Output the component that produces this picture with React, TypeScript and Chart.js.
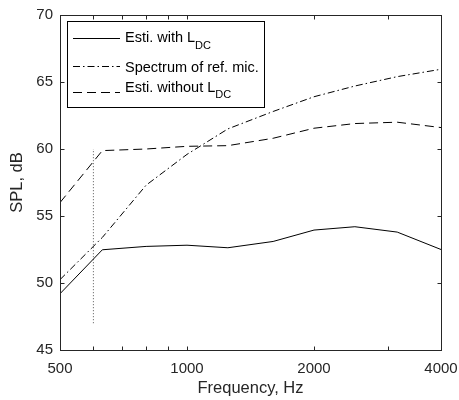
import React, { useEffect, useRef } from "react";
import { Chart, registerables } from "chart.js";

Chart.register(...registerables);

// ---- data ----
const frequencies = [500, 630, 800, 1000, 1250, 1600, 2000, 2500, 3150, 4000];
const estiWithLdc = [49.2, 52.48, 52.73, 52.82, 52.63, 53.1, 53.95, 54.2, 53.8, 52.5];
const refMicSpectrum = [50.25, 53.4, 57.3, 59.6, 61.5, 62.8, 63.9, 64.7, 65.4, 65.95];
const estiWithoutLdc = [56.0, 59.88, 60.0, 60.2, 60.25, 60.8, 61.55, 61.9, 62.0, 61.6];
const markerFrequency = 600;
const markerRange = [47, 60];

const xTickLabels = [500, 1000, 2000, 4000];
const xTickMarks = [600, 700, 800, 900, 1000, 2000, 3000];
const yTickMarks = [50, 55, 60, 65];

const legendLabels = ["Esti. with L", "Spectrum of ref. mic.", "Esti. without L"];
const legendSubscripts = ["DC", "", "DC"];
const seriesNames = ["Esti. with LDC", "Spectrum of ref. mic.", "Esti. without LDC"];

const FONT = '"Liberation Sans", Arial, Helvetica, sans-serif';
const AXIS_COLOR = "#262626";
const dashes: number[][] = [[], [7, 3, 1.5, 3], [9, 5]];

const boxPlugin = {
  id: "matlabBox",
  afterDatasetsDraw(chart: any) {
    const { ctx, chartArea: a, scales } = chart;
    ctx.save();
    ctx.strokeStyle = AXIS_COLOR;
    ctx.lineWidth = 1;
    ctx.setLineDash([]);
    const L = Math.round(a.left) + 0.5;
    const R = Math.round(a.right) + 0.5;
    const T = Math.round(a.top) + 0.5;
    const B = Math.round(a.bottom) + 0.5;
    ctx.strokeRect(L, T, R - L, B - T);
    const tl = 4;
    ctx.beginPath();
    for (const v of xTickMarks) {
      const px = Math.round(scales.x.getPixelForValue(v)) + 0.5;
      ctx.moveTo(px, B);
      ctx.lineTo(px, B - tl);
      ctx.moveTo(px, T);
      ctx.lineTo(px, T + tl);
    }
    for (const v of yTickMarks) {
      const py = Math.round(scales.y.getPixelForValue(v)) + 0.5;
      ctx.moveTo(L, py);
      ctx.lineTo(L + tl, py);
      ctx.moveTo(R, py);
      ctx.lineTo(R - tl, py);
    }
    ctx.stroke();

    // legend
    const bx = 67.5, by = 21.5, bw = 197, bh = 86;
    ctx.fillStyle = "#ffffff";
    ctx.fillRect(bx, by, bw, bh);
    ctx.strokeStyle = "#000";
    ctx.strokeRect(bx, by, bw, bh);
    const lineY = [38.5, 66.5, 92.5];
    const textY = [42, 71.5, 91.5];
    for (let i = 0; i < legendLabels.length; i++) {
      ctx.beginPath();
      ctx.setLineDash(dashes[i]);
      ctx.strokeStyle = "#000";
      ctx.moveTo(73, lineY[i]);
      ctx.lineTo(120, lineY[i]);
      ctx.stroke();
      ctx.setLineDash([]);
      ctx.fillStyle = "#000";
      ctx.textAlign = "left";
      ctx.textBaseline = "alphabetic";
      ctx.font = `14.5px ${FONT}`;
      ctx.fillText(legendLabels[i], 125, textY[i]);
      if (legendSubscripts[i]) {
        const w = ctx.measureText(legendLabels[i]).width;
        ctx.font = `11px ${FONT}`;
        ctx.fillText(legendSubscripts[i], 125 + w, textY[i] + 6.5);
      }
    }
    ctx.restore();
  },
};

export default function App() {
  const ref = useRef<HTMLCanvasElement | null>(null);
  useEffect(() => {
    document.body.style.margin = "0";
    document.body.style.background = "#fff";
    const canvas = ref.current!;
    const series = [estiWithLdc, refMicSpectrum, estiWithoutLdc];
    const datasets: any[] = series.map((vals, i) => ({
      label: seriesNames[i],
      data: frequencies.map((f, k) => ({ x: f, y: vals[k] })),
      borderColor: "#000",
      borderWidth: 1,
      borderDash: dashes[i],
      pointRadius: 0,
      fill: false,
      tension: 0,
    }));
    datasets.push({
      label: "marker",
      data: markerRange.map((y) => ({ x: markerFrequency, y })),
      borderColor: "#555",
      borderWidth: 1,
      borderDash: [1, 2],
      pointRadius: 0,
      fill: false,
    });
    const chart = new Chart(canvas, {
      type: "line",
      data: { datasets },
      plugins: [boxPlugin],
      options: {
        responsive: false,
        animation: false,
        layout: { padding: { top: 15, right: 18, left: 0, bottom: 0 } },
        plugins: { legend: { display: false }, tooltip: { enabled: false } },
        scales: {
          x: {
            type: "logarithmic",
            min: 500,
            max: 4000,
            afterBuildTicks: (s: any) => {
              s.ticks = xTickLabels.map((v) => ({ value: v }));
            },
            afterFit: (s: any) => {
              s.height = 50;
              s.paddingLeft = 0;
              s.paddingRight = 0;
            },
            ticks: {
              callback: (v: any) => String(v),
              font: { family: FONT, size: 15 },
              color: AXIS_COLOR,
              padding: 10,
              autoSkip: false,
              maxRotation: 0,
            },
            grid: { display: false, drawTicks: false },
            border: { display: false },
            title: {
              display: true,
              text: "Frequency, Hz",
              font: { family: FONT, size: 16.5 },
              color: AXIS_COLOR,
              padding: { top: 0, bottom: 2 },
            },
          },
          y: {
            type: "linear",
            min: 45,
            max: 70,
            afterFit: (s: any) => {
              s.width = 60;
              s.paddingTop = 0;
              s.paddingBottom = 0;
            },
            ticks: {
              stepSize: 5,
              font: { family: FONT, size: 15 },
              color: AXIS_COLOR,
              padding: 7,
            },
            grid: { display: false, drawTicks: false },
            border: { display: false },
            title: {
              display: true,
              text: "SPL, dB",
              font: { family: FONT, size: 16.5 },
              color: AXIS_COLOR,
              padding: { top: 8, bottom: 0 },
            },
          },
        },
      },
    } as any);
    return () => chart.destroy();
  }, []);
  return (
    <div style={{ width: 459, height: 400, background: "#fff" }}>
      <canvas ref={ref} width={459} height={400} style={{ display: "block" }} />
    </div>
  );
}
